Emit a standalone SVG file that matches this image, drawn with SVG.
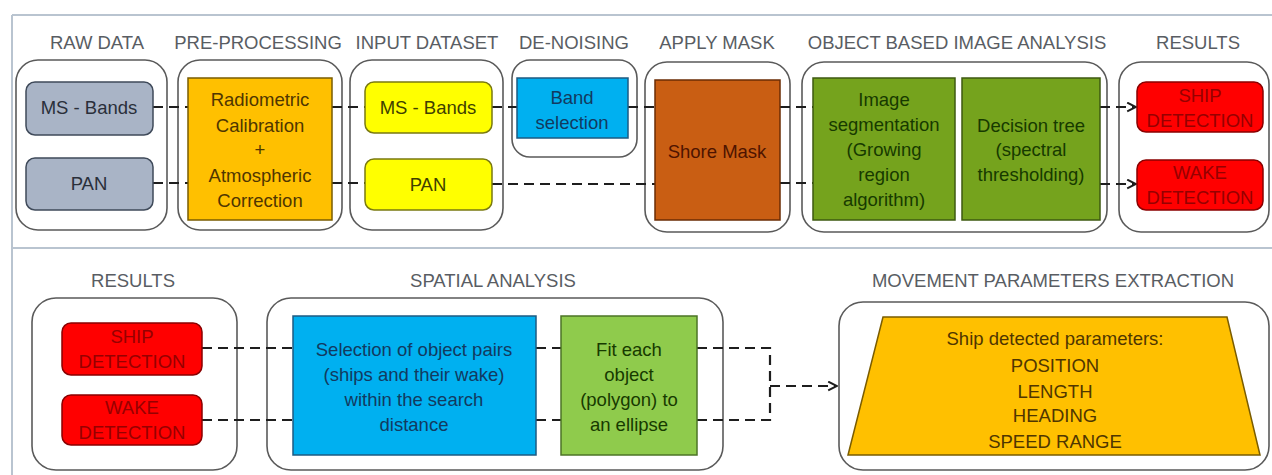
<svg xmlns="http://www.w3.org/2000/svg" width="1272" height="475" viewBox="0 0 1272 475">
  <style>
    .hdr { font-family: "Liberation Sans", Arial, sans-serif; font-size: 18.5px; fill: #595d63; text-anchor: middle; }
    .txt { font-family: "Liberation Sans", Arial, sans-serif; font-size: 18.5px; text-anchor: middle; }
    .box { fill: #ffffff; stroke: #5a5a5a; stroke-width: 1.6; }
    .frame { stroke: #b9c4d0; stroke-width: 2; fill: none; }
    .conn { stroke: #1e1e1e; stroke-width: 2.2; fill: none; stroke-dasharray: 10 6; }
    .gray { fill: #a9b4c6; stroke: #3f4a5a; stroke-width: 1.5; }
    .orange { fill: #ffc000; stroke: #7a5c00; stroke-width: 1.5; }
    .yellow { fill: #ffff00; stroke: #7a7a10; stroke-width: 1.5; }
    .blue { fill: #00b0f0; stroke: #1d5b82; stroke-width: 1.5; }
    .shore { fill: #c95e13; stroke: #6b2c05; stroke-width: 1.5; }
    .olive { fill: #75a31d; stroke: #3e5a10; stroke-width: 1.5; }
    .lgreen { fill: #8fcb4c; stroke: #4c7426; stroke-width: 1.5; }
    .red { fill: #ff0000; stroke: #8a0000; stroke-width: 1.5; }
    .t-dark { fill: #2a2f3a; }
    .t-brown { fill: #4f3600; }
    .t-olive { fill: #3f3f00; }
    .t-navy { fill: #123a60; }
    .t-rust { fill: #4e1400; }
    .t-green { fill: #173a00; }
    .t-red { fill: #960000; }
  </style>
  <defs>
    <marker id="chev" viewBox="0 0 10 10" refX="9" refY="5" markerWidth="5" markerHeight="5" orient="auto" markerUnits="strokeWidth">
      <path d="M1,1 L9,5 L1,9" fill="none" stroke="#1e1e1e" stroke-width="1.8"/>
    </marker>
  </defs>

  <rect width="1272" height="475" fill="#ffffff"/>

  <!-- outer frame and row divider -->
  <g id="frame">
    <line class="frame" x1="12" y1="15" x2="1272" y2="15"/>
    <line class="frame" x1="12" y1="15" x2="12" y2="475"/>
    <line class="frame" x1="12" y1="248" x2="1272" y2="248"/>
  </g>

  <!-- stage headers -->
  <g id="headers">
    <text class="hdr" x="97" y="49">RAW DATA</text>
    <text class="hdr" x="258" y="49">PRE-PROCESSING</text>
    <text class="hdr" x="427" y="49">INPUT DATASET</text>
    <text class="hdr" x="574" y="49">DE-NOISING</text>
    <text class="hdr" x="717" y="49">APPLY MASK</text>
    <text class="hdr" x="957" y="49">OBJECT BASED IMAGE ANALYSIS</text>
    <text class="hdr" x="1198" y="49">RESULTS</text>
    <text class="hdr" x="133" y="287">RESULTS</text>
    <text class="hdr" x="493" y="287">SPATIAL ANALYSIS</text>
    <text class="hdr" x="1053" y="287">MOVEMENT PARAMETERS EXTRACTION</text>
  </g>

  <!-- stage containers -->
  <g id="containers">
    <rect class="box" x="16" y="60" width="151" height="170" rx="22"/>
    <rect class="box" x="178" y="60" width="164" height="170" rx="22"/>
    <rect class="box" x="350" y="60" width="153" height="170" rx="22"/>
    <rect class="box" x="512" y="60" width="125" height="97" rx="18"/>
    <rect class="box" x="645" y="62" width="145" height="170" rx="22"/>
    <rect class="box" x="802" y="62" width="305" height="170" rx="22"/>
    <rect class="box" x="1119" y="62" width="150" height="170" rx="22"/>
    <rect class="box" x="32" y="298" width="205" height="172" rx="24"/>
    <rect class="box" x="267" y="298" width="456" height="172" rx="24"/>
    <rect class="box" x="839" y="302" width="430" height="168" rx="24"/>
  </g>

  <!-- connectors -->
  <g id="connectors">
    <line class="conn" x1="153" y1="107" x2="188" y2="107"/>
    <line class="conn" x1="153" y1="183" x2="188" y2="183"/>
    <line class="conn" x1="332" y1="107" x2="365" y2="107"/>
    <line class="conn" x1="332" y1="183" x2="365" y2="183"/>
    <line class="conn" x1="492" y1="107" x2="517" y2="107"/>
    <line class="conn" x1="628" y1="107" x2="655" y2="107"/>
    <line class="conn" x1="492" y1="184" x2="655" y2="184"/>
    <line class="conn" x1="780" y1="107" x2="813" y2="107"/>
    <line class="conn" x1="780" y1="183" x2="813" y2="183"/>
    <line class="conn" x1="1100" y1="107" x2="1136" y2="107" marker-end="url(#chev)"/>
    <line class="conn" x1="1100" y1="184" x2="1136" y2="184" marker-end="url(#chev)"/>

    <line class="conn" x1="202" y1="348" x2="293" y2="348"/>
    <line class="conn" x1="202" y1="420" x2="293" y2="420"/>
    <line class="conn" x1="536" y1="348" x2="561" y2="348"/>
    <line class="conn" x1="536" y1="420" x2="561" y2="420"/>
    <polyline class="conn" points="697,348 770,348 770,420 697,420"/>
    <line class="conn" x1="770" y1="386" x2="837" y2="386" marker-end="url(#chev)"/>
  </g>

  <!-- top row nodes -->
  <g id="raw-ms">
    <rect class="gray" x="26" y="82" width="127" height="53" rx="9"/>
    <text class="txt t-dark" x="89" y="114">MS - Bands</text>
  </g>
  <g id="raw-pan">
    <rect class="gray" x="26" y="158" width="127" height="52" rx="9"/>
    <text class="txt t-dark" x="89" y="190">PAN</text>
  </g>
  <g id="preprocessing">
    <rect class="orange" x="188" y="78" width="144" height="142"/>
    <text class="txt t-brown" x="260" y="106">Radiometric</text>
    <text class="txt t-brown" x="260" y="132">Calibration</text>
    <text class="txt t-brown" x="260" y="156">+</text>
    <text class="txt t-brown" x="260" y="182">Atmospheric</text>
    <text class="txt t-brown" x="260" y="207">Correction</text>
  </g>
  <g id="input-ms">
    <rect class="yellow" x="365" y="82" width="127" height="51" rx="9"/>
    <text class="txt t-olive" x="428" y="114">MS - Bands</text>
  </g>
  <g id="input-pan">
    <rect class="yellow" x="365" y="159" width="127" height="51" rx="9"/>
    <text class="txt t-olive" x="428" y="191">PAN</text>
  </g>
  <g id="band-selection">
    <rect class="blue" x="517" y="78" width="111" height="60"/>
    <text class="txt t-navy" x="572" y="104">Band</text>
    <text class="txt t-navy" x="572" y="129">selection</text>
  </g>
  <g id="shore-mask">
    <rect class="shore" x="655" y="80" width="125" height="140"/>
    <text class="txt t-rust" x="717" y="158">Shore Mask</text>
  </g>
  <g id="segmentation">
    <rect class="olive" x="813" y="78" width="142" height="142"/>
    <text class="txt t-green" x="884" y="106">Image</text>
    <text class="txt t-green" x="884" y="131">segmentation</text>
    <text class="txt t-green" x="884" y="156">(Growing</text>
    <text class="txt t-green" x="884" y="181">region</text>
    <text class="txt t-green" x="884" y="206">algorithm)</text>
  </g>
  <g id="decision-tree">
    <rect class="olive" x="962" y="78" width="138" height="142"/>
    <text class="txt t-green" x="1031" y="132">Decision tree</text>
    <text class="txt t-green" x="1031" y="156">(spectral</text>
    <text class="txt t-green" x="1031" y="181">thresholding)</text>
  </g>
  <g id="ship-detection-top">
    <rect class="red" x="1137" y="82" width="126" height="50" rx="9"/>
    <text class="txt t-red" x="1200" y="102">SHIP</text>
    <text class="txt t-red" x="1200" y="127">DETECTION</text>
  </g>
  <g id="wake-detection-top">
    <rect class="red" x="1137" y="160" width="126" height="50" rx="9"/>
    <text class="txt t-red" x="1200" y="179">WAKE</text>
    <text class="txt t-red" x="1200" y="204">DETECTION</text>
  </g>

  <!-- bottom row nodes -->
  <g id="ship-detection">
    <rect class="red" x="62" y="323" width="140" height="52" rx="9"/>
    <text class="txt t-red" x="132" y="343">SHIP</text>
    <text class="txt t-red" x="132" y="368">DETECTION</text>
  </g>
  <g id="wake-detection">
    <rect class="red" x="62" y="395" width="140" height="50" rx="9"/>
    <text class="txt t-red" x="132" y="414">WAKE</text>
    <text class="txt t-red" x="132" y="439">DETECTION</text>
  </g>
  <g id="pair-selection">
    <rect class="blue" x="293" y="316" width="243" height="139"/>
    <text class="txt t-navy" x="414" y="356">Selection of object pairs</text>
    <text class="txt t-navy" x="414" y="381">(ships and their wake)</text>
    <text class="txt t-navy" x="414" y="406">within the search</text>
    <text class="txt t-navy" x="414" y="431">distance</text>
  </g>
  <g id="ellipse-fit">
    <rect class="lgreen" x="561" y="316" width="136" height="139"/>
    <text class="txt t-green" x="629" y="356">Fit each</text>
    <text class="txt t-green" x="629" y="381">object</text>
    <text class="txt t-green" x="629" y="406">(polygon) to</text>
    <text class="txt t-green" x="629" y="431">an ellipse</text>
  </g>
  <g id="parameters">
    <polygon class="orange" points="883,317 1227,317 1260,455 848,455"/>
    <text class="txt t-brown" x="1055" y="345">Ship detected parameters:</text>
    <text class="txt t-brown" x="1055" y="372">POSITION</text>
    <text class="txt t-brown" x="1055" y="398">LENGTH</text>
    <text class="txt t-brown" x="1055" y="422">HEADING</text>
    <text class="txt t-brown" x="1055" y="448">SPEED RANGE</text>
  </g>
</svg>
